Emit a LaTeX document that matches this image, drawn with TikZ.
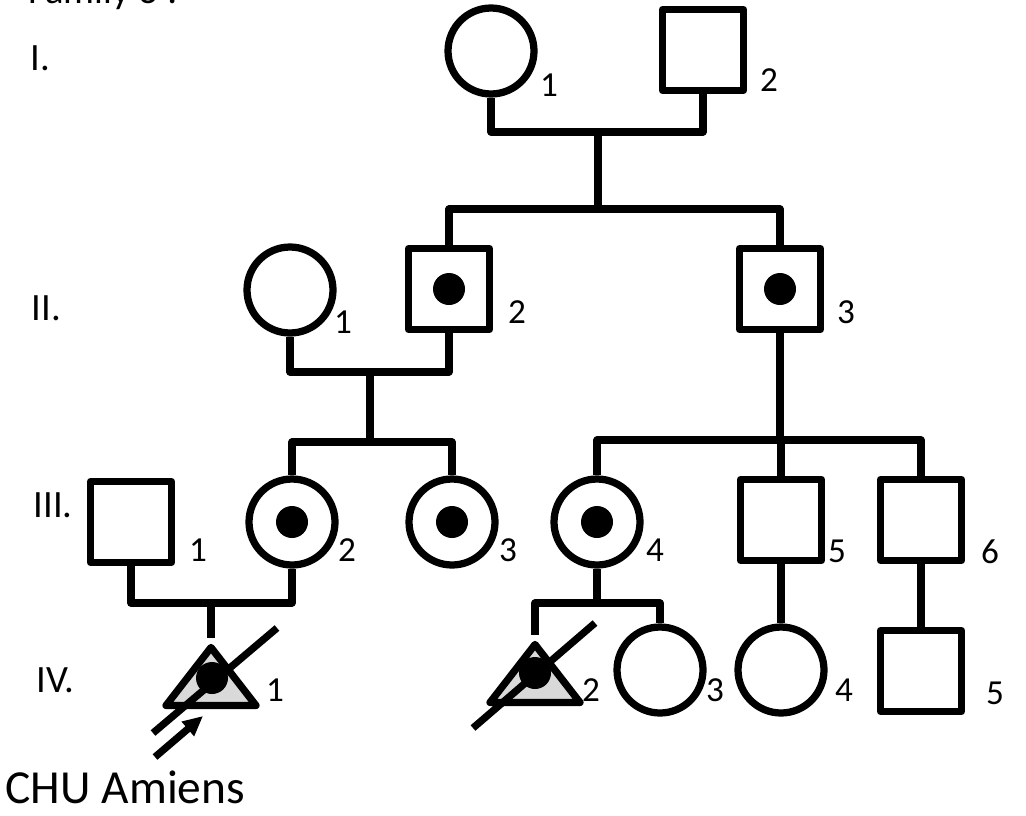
\documentclass[tikz,border=0pt]{standalone}
\usepackage{fontspec}
\setmainfont{Carlito}
\usetikzlibrary{calc,arrows.meta,shapes.geometric}

\begin{document}
\begin{tikzpicture}[x=0.02cm, y=-0.02cm, line width=0.145cm, line join=round,
	female/.style={draw, circle, minimum size=1.72cm, inner sep=0pt},
	male/.style={draw, rectangle, minimum size=1.62cm, inner sep=0pt},
	loss/.style={draw, fill=black!15, isosceles triangle, isosceles triangle stretches,
		shape border rotate=90, minimum width=1.8cm, minimum height=1.16cm, inner sep=0pt},
	carrier/.style={path picture={\fill (path picture bounding box.center) circle (0.32cm);}},
	num/.style={font=\fontsize{20}{20}\selectfont, inner sep=0pt},
	gen/.style={font=\fontsize{22}{22}\selectfont, anchor=base west, inner sep=0pt}]
	%%%%% START %%%%%
	
	\useasboundingbox (0,0) rectangle (1026,815);
	
	\node[gen] (fam) at (25,3) {Family 3 :};
	\node[gen] (g1) at (27,70) {I.};
	\node[gen] (g2) at (28,320) {II.};
	\node[gen] (g3) at (30,517) {III.};
	\node[gen] (g4) at (33,692) {IV.};
	
	% generation I
	\node[female] (i1) at (491,51) {};
	\node[male] (i2) at (703,50) {};
	\node[num] (n-i1) at (549,85) {1};
	\node[num] (n-i2) at (769,80) {2};
	
	% generation II
	\node[female] (ii1) at (290,290) {};
	\node[male, carrier] (ii2) at (449,289) {};
	\node[male, carrier] (ii3) at (780,289) {};
	\node[num] (n-ii1) at (343,322) {1};
	\node[num] (n-ii2) at (517,312) {2};
	\node[num] (n-ii3) at (846,312) {3};
	
	% generation III
	\node[male] (iii1) at (131,522) {};
	\node[female, carrier] (iii2) at (292,522) {};
	\node[female, carrier] (iii3) at (452,522) {};
	\node[female, carrier] (iii4) at (597,522) {};
	\node[male] (iii5) at (781,520) {};
	\node[male] (iii6) at (921,520) {};
	\node[num] (n-iii1) at (198,550) {1};
	\node[num] (n-iii2) at (347,550) {2};
	\node[num] (n-iii3) at (508,550) {3};
	\node[num] (n-iii4) at (655,550) {4};
	\node[num] (n-iii5) at (837,551) {5};
	\node[num] (n-iii6) at (990,552) {6};
	
	% generation IV
	\node[loss, anchor=apex] (iv1) at (211,638) {};
	\node[loss, anchor=apex] (iv2) at (535,635) {};
	\fill ($(iv1.apex)+(1,40)$) circle (0.32cm);
	\fill ($(iv2.apex)+(0,38)$) circle (0.32cm);
	\node[female] (iv3) at (660,670) {};
	\node[female] (iv4) at (781,670) {};
	\node[male] (iv5) at (921,671) {};
	\node[num] (n-iv1) at (275,690) {1};
	\node[num] (n-iv2) at (591,690) {2};
	\node[num] (n-iv3) at (715,690) {3};
	\node[num] (n-iv4) at (844,690) {4};
	\node[num] (n-iv5) at (995,693) {5};
	
	% couples and sibships
	\coordinate (m1) at (598,132);
	\coordinate (s1) at (598,209);
	\draw (i1.south) |- (m1) -| (i2.south);
	\draw (m1) -- (s1);
	\draw (ii2.north) |- (s1) -| (ii3.north);
	
	\coordinate (m2) at (370,372);
	\coordinate (s2) at (370,442);
	\draw (ii1.south) |- (m2) -| (ii2.south);
	\draw (m2) -- (s2);
	\draw (iii2.north) |- (s2) -| (iii3.north);
	
	\coordinate (s3) at (780,440);
	\draw (ii3.south) -- (s3);
	\draw (iii4.north) |- (s3) -| (iii6.north);
	\draw (iii5.north) -- (iii5.north |- s3);
	
	\coordinate (m3) at (211,603);
	\draw (iii1.south) |- (m3) -| (iii2.south);
	\draw (m3) -- (iv1.apex);
	
	\coordinate (s4) at (597,603);
	\draw (iii4.south) -- (s4);
	\draw (iv2.apex) |- (s4) -| (iv3.north);
	\draw (iii5.south) -- (iv4.north);
	\draw (iii6.south) -- (iv5.north);
	
	% deceased
	\draw ($(iv1.apex)+(-58,95)$) -- ($(iv1.apex)+(66,-10)$);
	\draw ($(iv2.apex)+(-62,93)$) -- ($(iv2.apex)+(60,-12)$);
	
	% proband
	\draw[-{Triangle[length=0.4cm,width=0.36cm]}] ($(iv1.apex)+(-56,119)$) -- ($(iv1.apex)+(-8,78)$);
	\node[font=\fontsize{27}{27}\selectfont, anchor=base west, inner sep=0pt] (chu) at (2,803) {CHU Amiens};
	
	%%%%% END %%%%%
\end{tikzpicture}
\end{document}
